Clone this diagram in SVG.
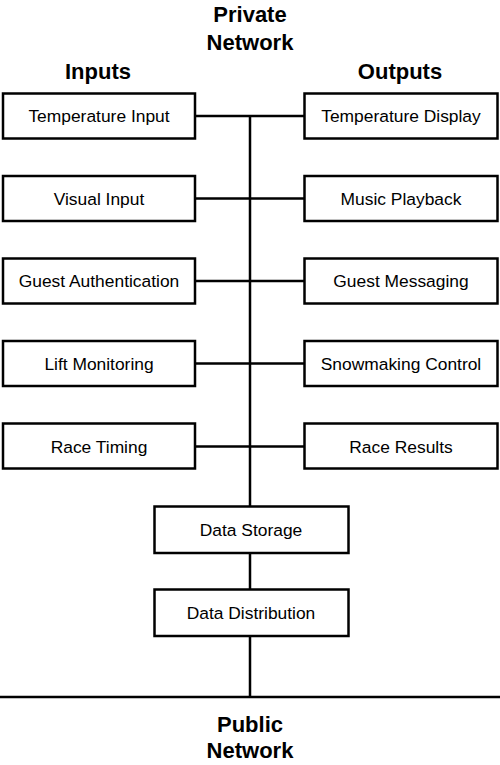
<svg xmlns="http://www.w3.org/2000/svg" width="500" height="765" viewBox="0 0 500 765">
<style>
.box{fill:#fff;stroke:#000;stroke-width:2.5}
.lbl{font-family:"Liberation Sans",Arial,sans-serif;font-size:17.4px;text-anchor:middle;fill:#000}
.ttl{font-family:"Liberation Sans",Arial,sans-serif;font-size:22px;font-weight:bold;text-anchor:middle;fill:#000}
.ln{stroke:#000;stroke-width:2.5;fill:none}
</style>
<rect width="500" height="765" fill="#fff"/>
<g id="titles">
<text class="ttl" x="250" y="22">Private</text>
<text class="ttl" x="250" y="50">Network</text>
<text class="ttl" x="98" y="79">Inputs</text>
<text class="ttl" x="400" y="79">Outputs</text>
<text class="ttl" x="250" y="732">Public</text>
<text class="ttl" x="250" y="758">Network</text>
</g>
<g id="connectors">
<path class="ln" d="M250 116V697"/>
<path class="ln" d="M0 697H500"/>
<path class="ln" d="M195 116H304"/>
<path class="ln" d="M195 198.5H304"/>
<path class="ln" d="M195 281H304"/>
<path class="ln" d="M195 363.5H304"/>
<path class="ln" d="M195 446.5H304"/>
</g>
<g id="temperature-input"><rect class="box" x="3" y="93.5" width="192" height="45"/><text class="lbl" x="99" y="122">Temperature Input</text></g>
<g id="visual-input"><rect class="box" x="3" y="176" width="192" height="45"/><text class="lbl" x="99" y="204.5">Visual Input</text></g>
<g id="guest-authentication"><rect class="box" x="3" y="258.5" width="192" height="45"/><text class="lbl" x="99" y="287">Guest Authentication</text></g>
<g id="lift-monitoring"><rect class="box" x="3" y="341" width="192" height="45"/><text class="lbl" x="99" y="369.5">Lift Monitoring</text></g>
<g id="race-timing"><rect class="box" x="3" y="423.5" width="192" height="45"/><text class="lbl" x="99" y="452.5">Race Timing</text></g>
<g id="temperature-display"><rect class="box" x="304.5" y="93.5" width="193" height="45"/><text class="lbl" x="401" y="122">Temperature Display</text></g>
<g id="music-playback"><rect class="box" x="304.5" y="176" width="193" height="45"/><text class="lbl" x="401" y="204.5">Music Playback</text></g>
<g id="guest-messaging"><rect class="box" x="304.5" y="258.5" width="193" height="45"/><text class="lbl" x="401" y="287">Guest Messaging</text></g>
<g id="snowmaking-control"><rect class="box" x="304.5" y="341" width="193" height="45"/><text class="lbl" x="401" y="369.5">Snowmaking Control</text></g>
<g id="race-results"><rect class="box" x="304.5" y="423.5" width="193" height="45"/><text class="lbl" x="401" y="452.5">Race Results</text></g>
<g id="data-storage"><rect class="box" x="154.5" y="506.5" width="194" height="46.5"/><text class="lbl" x="251" y="536">Data Storage</text></g>
<g id="data-distribution"><rect class="box" x="154.5" y="589.5" width="194" height="46.5"/><text class="lbl" x="251" y="619">Data Distribution</text></g>
</svg>
